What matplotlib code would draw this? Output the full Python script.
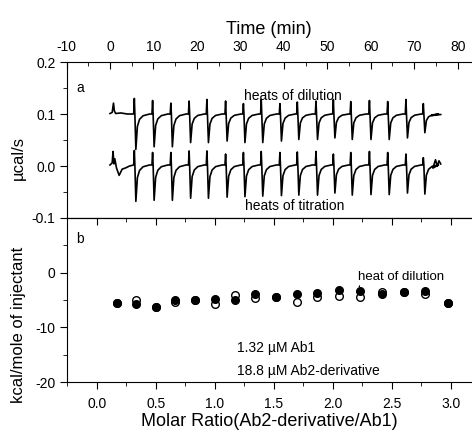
import matplotlib
matplotlib.use('Agg')
import matplotlib.pyplot as plt
from matplotlib.ticker import MultipleLocator

plt.rcParams['font.family'] = ['Liberation Sans', 'DejaVu Sans']
plt.rcParams['axes.unicode_minus'] = False

# ---- panel a: raw ITC traces, time in min, power in ucal/s ----
inj_time = [5.6, 9.8, 14.0, 18.2, 22.3, 26.6, 30.7, 34.8, 39.1, 43.1,
            47.4, 51.4, 55.4, 59.7, 63.9, 68.1, 72.1]

dil_base = 0.100
dil_up = [0.130, 0.126, 0.121, 0.125, 0.128, 0.125, 0.120, 0.128, 0.120,
          0.123, 0.125, 0.128, 0.124, 0.126, 0.124, 0.128, 0.120]
dil_dip = [0.032, 0.037, 0.037, 0.045, 0.045, 0.048, 0.045, 0.045, 0.048,
           0.051, 0.051, 0.054, 0.051, 0.051, 0.051, 0.054, 0.064]
dil_start_t = [0.0, 0.5, 0.8, 1.0, 1.3, 2.5, 4.0]
dil_start_y = [0.101, 0.103, 0.121, 0.106, 0.101, 0.102, 0.100]
dil_end_t = [74.0, 76.1]
dil_end_y = [0.097, 0.099]

tit_base = 0.002
tit_up = [0.030, 0.026, 0.026, 0.029, 0.029, 0.023, 0.026, 0.028, 0.026,
          0.027, 0.028, 0.023, 0.026, 0.028, 0.026, 0.023, 0.016]
tit_dip = [-0.068, -0.066, -0.066, -0.062, -0.062, -0.060, -0.059, -0.058, -0.057,
           -0.056, -0.056, -0.052, -0.056, -0.055, -0.055, -0.052, -0.054]
tit_start_t = [0.0, 0.5, 0.7, 0.9, 1.1, 1.5, 2.1, 2.8, 3.5, 4.5]
tit_start_y = [0.002, 0.006, 0.028, 0.004, 0.014, -0.004, -0.018, -0.006, -0.004, 0.000]
tit_end_t = [74.3, 74.9, 75.3, 75.7, 76.1]
tit_end_y = [-0.004, 0.012, 0.000, 0.010, 0.004]

# ---- panel b: integrated heats, kcal/mole of injectant ----
molar_ratio = [0.17, 0.33, 0.50, 0.66, 0.83, 1.00, 1.17, 1.34, 1.52, 1.70,
               1.87, 2.05, 2.23, 2.42, 2.60, 2.78, 2.98]
heat_titration = [-5.6, -5.7, -6.2, -5.0, -5.0, -4.9, -5.0, -3.9, -4.5, -3.9,
                  -3.7, -3.2, -3.3, -3.9, -3.5, -3.3, -5.5]
heat_dilution = [-5.6, -5.0, -6.2, -5.4, -5.0, -5.8, -4.1, -4.7, -4.5, -5.3,
                 -4.4, -4.2, -4.5, -3.5, -3.5, -3.9, -5.5]


def build_trace(base, up, dip, start_t, start_y, end_t, end_y):
    # injection peak shape: short spike up, sharp dip, tail back to baseline
    t = list(start_t)
    y = list(start_y)
    for ti, u, d in zip(inj_time, up, dip):
        depth = d - base
        t += [ti - 0.15, ti, ti + 0.12, ti + 0.35, ti + 0.7, ti + 1.2, ti + 2.0, ti + 3.5]
        y += [base, u, base, d, base + 0.35 * depth, base + 0.15 * depth,
              base + 0.05 * depth, base]
    t += end_t
    y += end_y
    return t, y


fig = plt.figure(figsize=(4.72, 4.34), dpi=100)
ax1 = fig.add_axes([0.141, 0.4977, 0.859, 0.3594])
ax2 = fig.add_axes([0.141, 0.1198, 0.859, 0.3779])

## panel a
t, y = build_trace(dil_base, dil_up, dil_dip, dil_start_t, dil_start_y, dil_end_t, dil_end_y)
ax1.plot(t, y, color='black', lw=1.2)
t, y = build_trace(tit_base, tit_up, tit_dip, tit_start_t, tit_start_y, tit_end_t, tit_end_y)
ax1.plot(t, y, color='black', lw=1.2)
ax1.set_xlim(-10, 83.3)
ax1.set_ylim(-0.1, 0.2)
ax1.xaxis.tick_top()
ax1.xaxis.set_label_position('top')
ax1.xaxis.set_major_locator(MultipleLocator(10))
ax1.xaxis.set_minor_locator(MultipleLocator(5))
ax1.yaxis.set_minor_locator(MultipleLocator(0.05))
ax1.set_yticks([-0.1, 0.0, 0.1, 0.2])
ax1.set_yticklabels(['-0.1', '0.0', '0.1', '0.2'])
ax1.tick_params(axis='x', which='both', direction='in', top=True, bottom=False,
                labelsize=10, pad=6)
ax1.tick_params(axis='x', which='major', length=5)
ax1.tick_params(axis='x', which='minor', length=3)
ax1.tick_params(axis='y', which='both', direction='out', right=False, labelsize=10, pad=3)
ax1.tick_params(axis='y', which='major', length=5)
ax1.tick_params(axis='y', which='minor', length=3)
ax1.set_xlabel('Time (min)', fontsize=13, labelpad=4)
ax1.set_ylabel('µcal/s', fontsize=12)
ax1.yaxis.set_label_coords(-0.100, 0.385)
ax1.spines['right'].set_visible(False)
ax1.text(-6.9, 0.15, 'a', fontsize=10, ha='center', va='center')
ax1.text(42.0, 0.135, 'heats of dilution', fontsize=10, ha='center', va='center')
ax1.text(42.6, -0.077, 'heats of titration', fontsize=10, ha='center', va='center')

## panel b
ax2.plot(molar_ratio, heat_dilution, 'o', mfc='white', mec='black', mew=1.0, ms=5.5)
ax2.plot(molar_ratio, heat_titration, 'o', mfc='black', mec='black', ms=5.5)
ax2.set_xlim(-0.256, 3.18)
ax2.set_ylim(-20, 10)
ax2.set_yticks([-20, -10, 0])
ax2.yaxis.set_minor_locator(MultipleLocator(5))
ax2.xaxis.set_major_locator(MultipleLocator(0.5))
ax2.xaxis.set_minor_locator(MultipleLocator(0.25))
ax2.tick_params(axis='both', which='both', direction='out', right=False, top=False,
                labelsize=10)
ax2.tick_params(axis='x', which='major', length=5, pad=6)
ax2.tick_params(axis='x', which='minor', length=3)
ax2.tick_params(axis='y', which='major', length=5, pad=3)
ax2.tick_params(axis='y', which='minor', length=3)
sec = ax2.secondary_xaxis('top')
sec.xaxis.set_major_locator(MultipleLocator(0.5))
sec.xaxis.set_minor_locator(MultipleLocator(0.25))
sec.tick_params(axis='x', which='both', direction='in', labeltop=False)
sec.tick_params(axis='x', which='major', length=5)
sec.tick_params(axis='x', which='minor', length=3)
ax2.spines['right'].set_visible(False)
ax2.set_xlabel('Molar Ratio(Ab2-derivative/Ab1)', fontsize=13, labelpad=1)
ax2.set_ylabel('kcal/mole of injectant', fontsize=12)
ax2.yaxis.set_label_coords(-0.100, 0.348)
ax2.text(-0.14, 6.2, 'b', fontsize=10, ha='center', va='center')
ax2.annotate('heat of dilution', xy=(2.225, -2.6), xytext=(2.215, -0.8),
             fontsize=9.5, ha='left', va='center',
             arrowprops=dict(arrowstyle='-', color='black', lw=0.9,
                             shrinkA=0, shrinkB=0, relpos=(0.03, 0.3)))
ax2.text(1.186, -13.7, '1.32 µM Ab1', fontsize=10, ha='left', va='center')
ax2.text(1.186, -18.0, '18.8 µM Ab2-derivative', fontsize=10, ha='left', va='center')

plt.savefig('out.png', dpi=100)
